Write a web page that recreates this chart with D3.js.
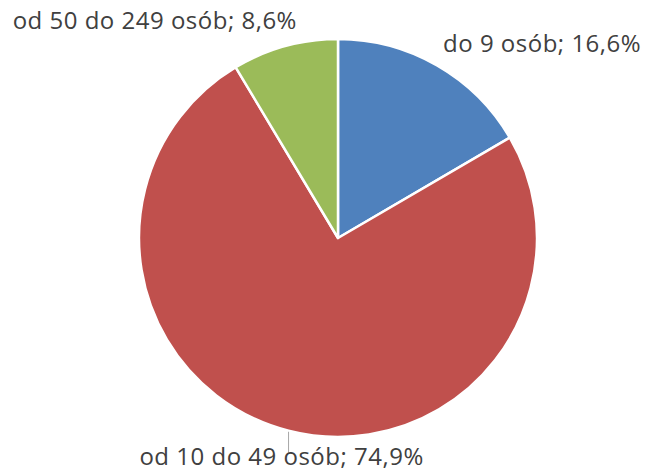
<!DOCTYPE html>
<html>
<head>
<meta charset="utf-8">
<script src="https://cdn.jsdelivr.net/npm/d3@7"></script>
<style>
  html, body { margin: 0; padding: 0; background: #fff; }
  #chart { width: 645px; height: 472px; }
</style>
</head>
<body>
<div id="chart"></div>
<script>
// Pie: company size shares, clockwise from 12 o'clock
var categories = ["do 9 osób", "od 10 do 49 osób", "od 50 do 249 osób"];
var shares = [16.6, 74.9, 8.6];
var colors = ["#4F81BD", "#C0504D", "#9BBB59"];

(function() {
  "use strict";

  var width = 645;
  var height = 472;
  var cx = 338;
  var cy = 238;
  var radius = 199;

  var svg = d3.select("#chart").append("svg")
      .attr("width", width)
      .attr("height", height);

  var data = categories.map(function(c, i) {
    return {name: c, value: shares[i], color: colors[i]};
  });

  var pie = d3.pie()
      .sort(null)
      .value(function(d) { return d.value; });

  var arc = d3.arc().innerRadius(0).outerRadius(radius);

  var g = svg.append("g")
      .attr("transform", "translate(" + cx + "," + cy + ")");

  var slices = pie(data);

  g.selectAll("path.slice")
    .data(slices)
    .enter().append("path")
      .attr("class", "slice")
      .attr("d", arc)
      .attr("fill", function(d) { return d.data.color; })
      .attr("stroke", "#fff")
      .attr("stroke-width", 2.5)
      .attr("stroke-linejoin", "round");

  var fmt = function(v) { return String(v.toFixed(1)).replace(".", ","); };

  // edge point of a slice at its mid angle
  function edge(d, r) {
    var a = (d.startAngle + d.endAngle) / 2;
    return [r * Math.sin(a), -r * Math.cos(a)];
  }

  // label placement nudges, like Excel's best fit
  var labelOpts = [
    {anchor: "start", dx: 6, dy: -13, leader: 0},
    {anchor: "middle", dx: -7, dy: 34, leader: 22},
    {anchor: "end", dx: 12, dy: -17, leader: 0}
  ];

  slices.forEach(function(d, i) {
    var p = edge(d, radius);
    var o = labelOpts[i];
    if (o.leader) {
      g.append("line")
        .attr("x1", p[0]).attr("y1", p[1] + 1)
        .attr("x2", p[0]).attr("y2", p[1] + o.leader)
        .attr("stroke", "#a6a6a6")
        .attr("stroke-width", 1);
    }
    g.append("text")
      .attr("x", p[0] + o.dx)
      .attr("y", p[1] + o.dy)
      .attr("text-anchor", o.anchor)
      .attr("font-family", "'Open Sans', sans-serif")
      .attr("font-size", 24)
      .attr("letter-spacing", 0.5)
      .attr("fill", "#404040")
      .text(d.data.name + "; " + fmt(d.data.value) + "%");
  });
})();
</script>
</body>
</html>
